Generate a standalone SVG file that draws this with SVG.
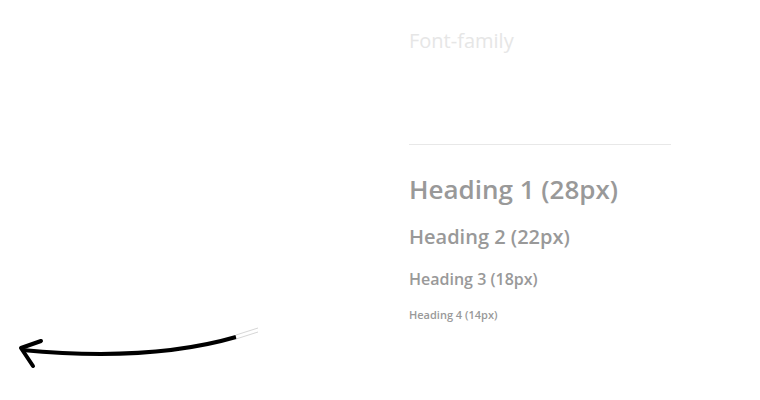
<svg xmlns="http://www.w3.org/2000/svg" width="760" height="400" viewBox="0 0 760 400">
<style>
.h{font-family:"Open Sans",sans-serif;font-weight:600;fill:#999}
</style>
<rect width="760" height="400" fill="#fff"/>
<g id="title"><text x="409" y="48" font-family="Open Sans, sans-serif" font-size="20" fill="#e6e6e6">Font-family</text></g>
<g id="rule"><line x1="409" y1="144.5" x2="671" y2="144.5" stroke="#e8e8e8" stroke-width="1"/></g>
<g id="h1"><text class="h" x="409" y="199" font-size="26">Heading 1 (28px)</text></g>
<g id="h2"><text class="h" x="409" y="244" font-size="20">Heading 2 (22px)</text></g>
<g id="h3"><text class="h" x="409" y="285" font-size="16">Heading 3 (18px)</text></g>
<g id="h4"><text class="h" x="409" y="319" font-size="11">Heading 4 (14px)</text></g>
<g id="connectors">
<path d="M236 337 Q150 362 22 350" fill="none" stroke="#000" stroke-width="4"/>
<path d="M236 335 L258 328 M236 339 L258 332" stroke="#ccc" stroke-width="0.8" fill="none"/>
<path d="M41 341 L21 348 L33 366" fill="none" stroke="#000" stroke-width="4" stroke-linecap="round" stroke-linejoin="round"/>
</g>
</svg>
